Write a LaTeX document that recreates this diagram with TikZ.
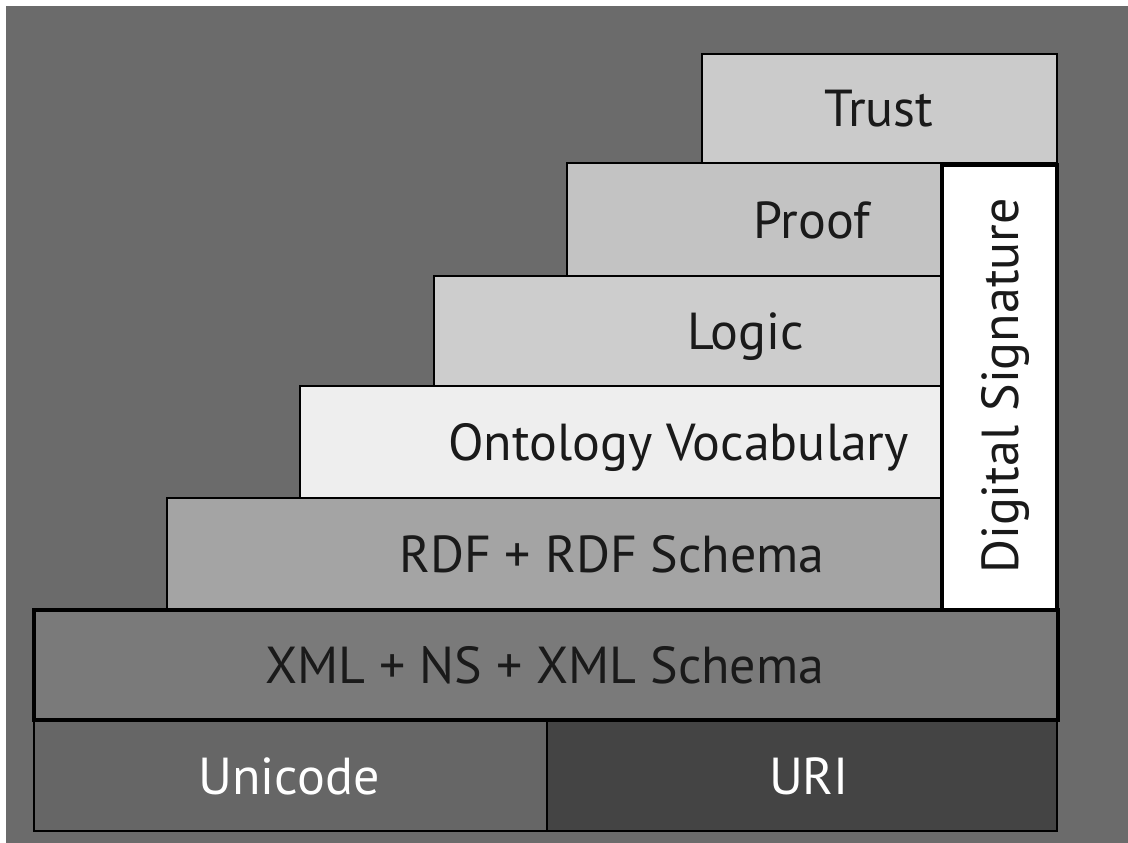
\documentclass[tikz,border=0pt]{standalone}
\usepackage{fontspec}
\setmainfont{PT Sans}
\definecolor{bg}{HTML}{6B6B6B}
\definecolor{ctrust}{HTML}{CBCBCB}
\definecolor{cproof}{HTML}{C3C3C3}
\definecolor{clogic}{HTML}{CDCDCD}
\definecolor{conto}{HTML}{EEEEEE}
\definecolor{crdf}{HTML}{A4A4A4}
\definecolor{cxml}{HTML}{7A7A7A}
\definecolor{cuni}{HTML}{666666}
\definecolor{curi}{HTML}{444444}
\definecolor{ink}{HTML}{1A1A1A}
\tikzset{
  layer/.style={draw=black, line width=1.6pt, inner sep=0pt, outer sep=0pt, rectangle},
  heavy/.style={draw=black, line width=3.2pt, inner sep=0pt, outer sep=0pt, rectangle},
  txt/.style={inner sep=0pt, anchor=base, font=\fontsize{52}{60}\selectfont, text=ink},
  wtxt/.style={txt, text=white},
}
\begin{document}
\begin{tikzpicture}[x=1pt,y=-1pt]
\useasboundingbox (0,0) rectangle (1128,843);
\fill[white] (0,0) rectangle (1128,843);
\fill[bg] (6,6) rectangle (1128,843);
% boxes
\node[layer, fill=ctrust, minimum width=355pt, minimum height=109pt] (trust) at (879.5,108.5) {};
\node[layer, fill=cproof, minimum width=375pt, minimum height=113pt] (proof) at (754.5,219.5) {};
\node[layer, fill=clogic, minimum width=508pt, minimum height=110pt] (logic) at (688,331) {};
\node[layer, fill=conto, minimum width=642pt, minimum height=112pt] (onto) at (621,442) {};
\node[layer, fill=crdf, minimum width=775pt, minimum height=112pt] (rdf) at (554.5,554) {};
\node[layer, fill=cuni, minimum width=513pt, minimum height=111pt] (uni) at (290.5,775.5) {};
\node[layer, fill=curi, minimum width=510pt, minimum height=111pt] (uri) at (802,775.5) {};
\node[heavy, fill=cxml, minimum width=1024pt, minimum height=110pt] (xml) at (546,665) {};
\node[heavy, fill=white, minimum width=115pt, minimum height=445pt] (sig) at (999.5,387.5) {};
% texts
\node[txt] (ttrust) at (879,127) {Trust};
\node[txt] (tproof) at (812,238) {Proof};
\node[txt] (tlogic) at (745.5,349.5) {Logic};
\node[txt] (tonto) at (678.5,460.5) {Ontology Vocabulary};
\node[txt] (trdf) at (612,572.5) {RDF + RDF Schema};
\node[txt] (txml) at (545,683.5) {XML + NS + XML Schema};
\node[wtxt] (tuni) at (289,794) {Unicode};
\node[wtxt] (turi) at (809,794) {URI};
\node[txt, rotate=90] (tsig) at (1018.5,386) {Digital Signature};
\end{tikzpicture}
\end{document}
